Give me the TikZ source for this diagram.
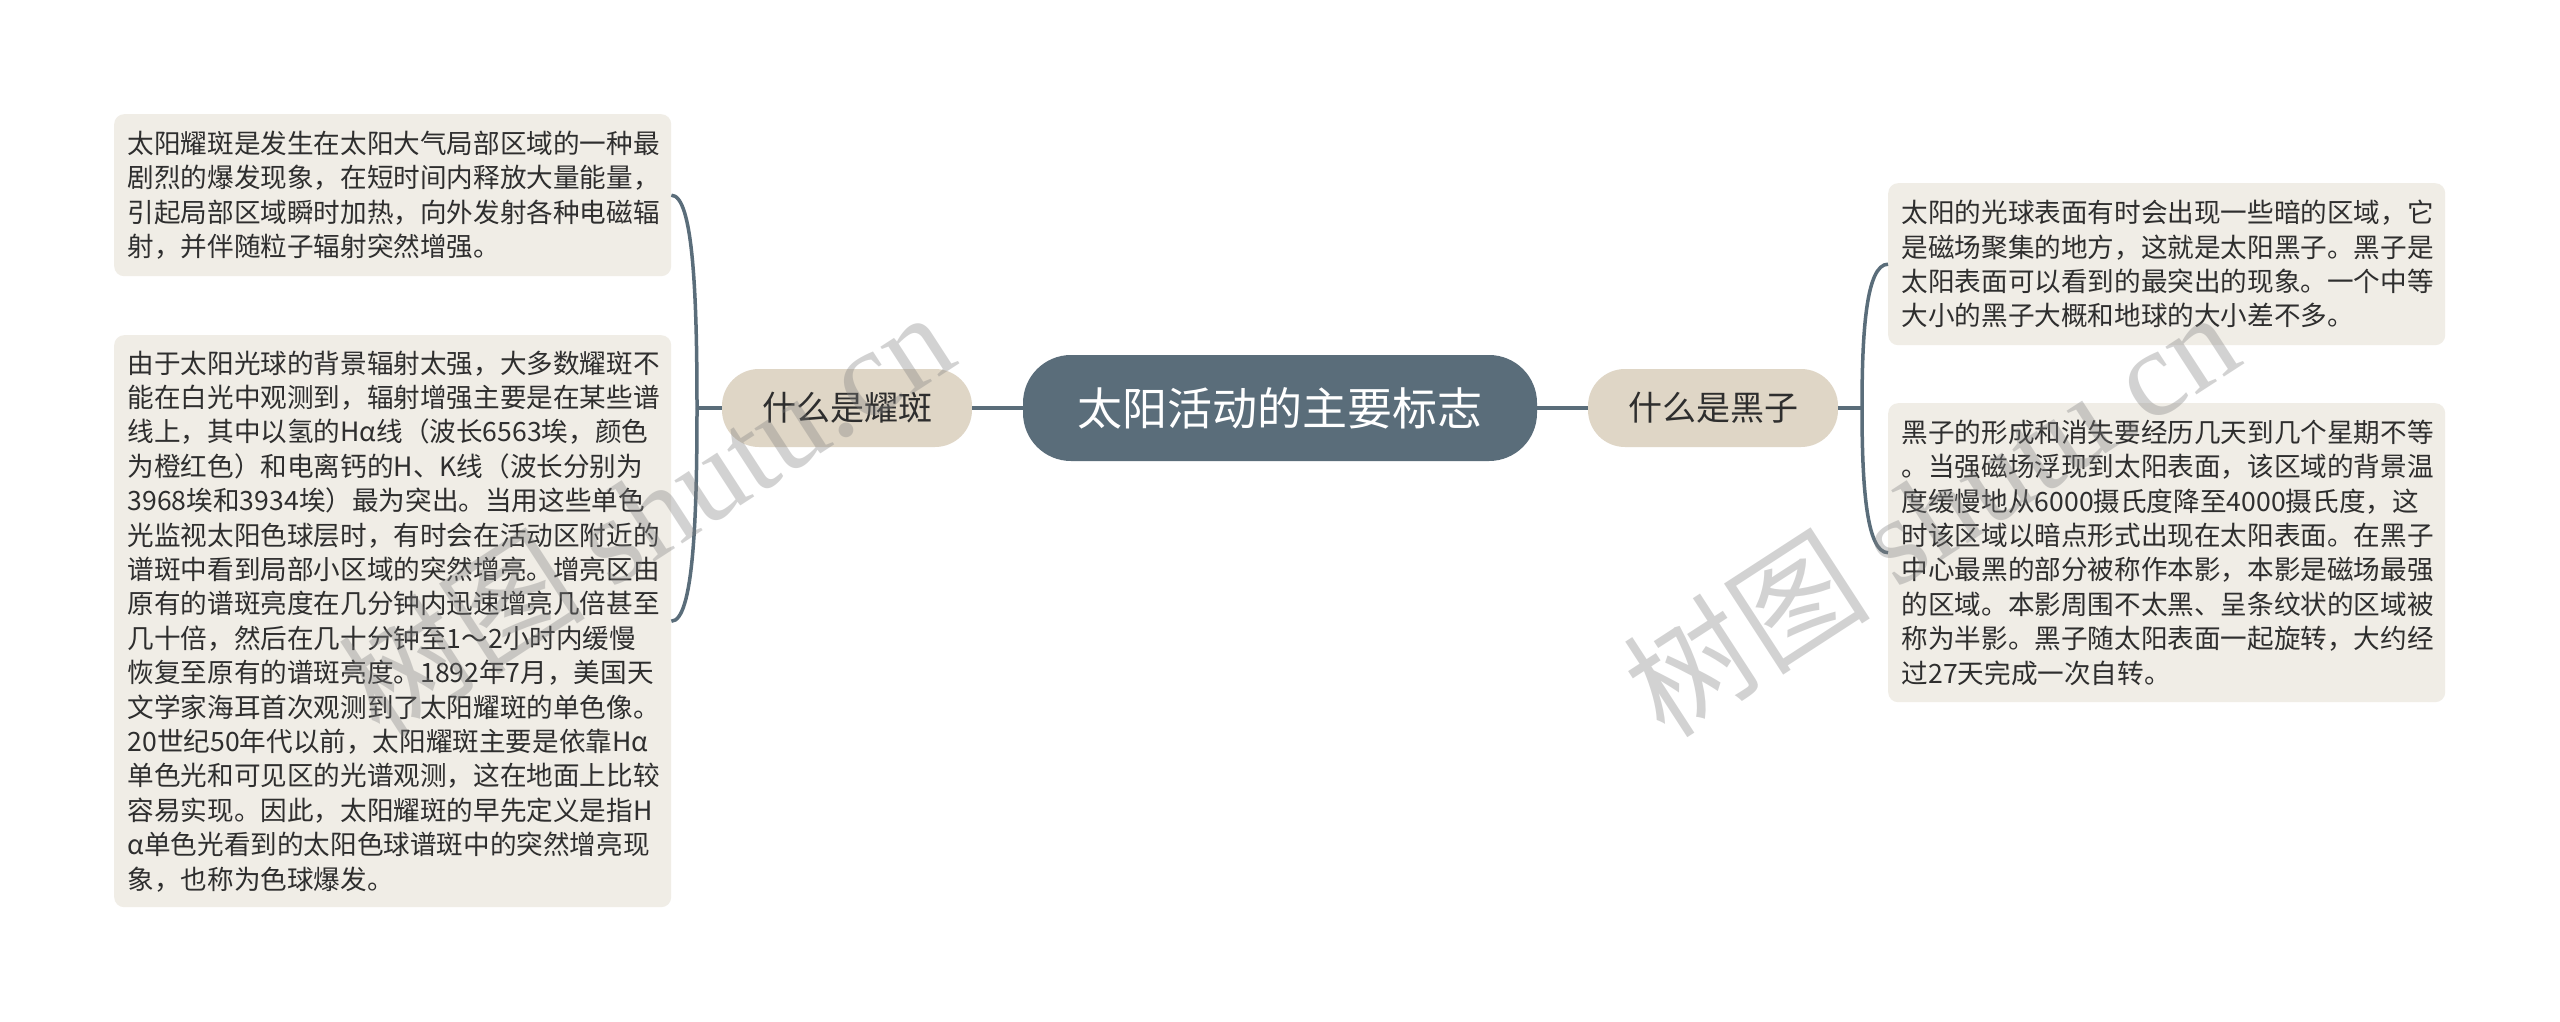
\documentclass[tikz,border=0pt]{standalone}
\usepackage{fontspec}
\setmainfont{Noto Sans CJK SC}
\newfontfamily\wmserif{Liberation Serif}
\usetikzlibrary{calc}
\definecolor{mainc}{HTML}{5A6D7A}
\definecolor{subc}{HTML}{DFD6C6}
\definecolor{leafc}{HTML}{F0EDE6}
\definecolor{txtc}{HTML}{2E2E2E}
\tikzset{
  rootbox/.style={fill=mainc, draw=none, rounded corners=48pt, minimum width=514pt, minimum height=106pt, inner sep=0pt, text=white, font=\fontsize{45pt}{54pt}\selectfont},
  subbox/.style={fill=subc, draw=none, rounded corners=37pt, minimum width=250pt, minimum height=78pt, inner sep=0pt, text=txtc, font=\fontsize{34pt}{40pt}\selectfont},
  leafbox/.style={fill=leafc, draw=none, rounded corners=10pt, text width=530pt, inner xsep=13.5pt, inner ysep=0pt, align=left, anchor=north west, text=txtc, font=\fontsize{26.6pt}{34.4pt}\selectfont},
  mainconn/.style={draw=mainc, line width=4.5pt},
  brconn/.style={draw=mainc, line width=3.5pt},
  wmark/.style={text=black!50, opacity=0.35, inner sep=0pt, rotate=33, font=\fontsize{124pt}{130pt}\selectfont}
}
\begin{document}
\begin{tikzpicture}[x=1pt,y=-1pt]
\useasboundingbox (0,0) rectangle (2560,1022);
\fill[white] (0,0) rectangle (2560,1022);

\node[rootbox] (root) at (1280,408) {太阳活动的主要标志};
\node[subbox] (sl) at (847,408) {什么是耀斑};
\node[subbox] (sr) at (1713,408) {什么是黑子};

\node[leafbox, minimum height=162pt] (l1) at (114,114) {太阳耀斑是发生在太阳大气局部区域的一种最\\
剧烈的爆发现象，在短时间内释放大量能量，\\
引起局部区域瞬时加热，向外发射各种电磁辐\\
射，并伴随粒子辐射突然增强。};

\node[leafbox, minimum height=572pt] (l2) at (114,335) {由于太阳光球的背景辐射太强，大多数耀斑不\\
能在白光中观测到，辐射增强主要是在某些谱\\
线上，其中以氢的Hα线（波长6563埃，颜色\\
为橙红色）和电离钙的H、K线（波长分别为\\
3968埃和3934埃）最为突出。当用这些单色\\
光监视太阳色球层时，有时会在活动区附近的\\
谱斑中看到局部小区域的突然增亮。增亮区由\\
原有的谱斑亮度在几分钟内迅速增亮几倍甚至\\
几十倍，然后在几十分钟至1～2小时内缓慢\\
恢复至原有的谱斑亮度。1892年7月，美国天\\
文学家海耳首次观测到了太阳耀斑的单色像。\\
20世纪50年代以前，太阳耀斑主要是依靠Hα\\
单色光和可见区的光谱观测，这在地面上比较\\
容易实现。因此，太阳耀斑的早先定义是指H\\
α单色光看到的太阳色球谱斑中的突然增亮现\\
象，也称为色球爆发。};

\node[leafbox, minimum height=162pt] (r1) at (1888,183) {太阳的光球表面有时会出现一些暗的区域，它\\
是磁场聚集的地方，这就是太阳黑子。黑子是\\
太阳表面可以看到的最突出的现象。一个中等\\
大小的黑子大概和地球的大小差不多。};

\node[leafbox, minimum height=299pt] (r2) at (1888,403) {黑子的形成和消失要经历几天到几个星期不等\\
。当强磁场浮现到太阳表面，该区域的背景温\\
度缓慢地从6000摄氏度降至4000摄氏度，这\\
时该区域以暗点形式出现在太阳表面。在黑子\\
中心最黑的部分被称作本影，本影是磁场最强\\
的区域。本影周围不太黑、呈条纹状的区域被\\
称为半影。黑子随太阳表面一起旋转，大约经\\
过27天完成一次自转。};

\coordinate (jl) at (697,408);
\coordinate (jr) at (1862,408);

\draw[mainconn] (root.west) -- (sl.east);
\draw[mainconn] (root.east) -- (sr.west);
\draw[brconn] (sl.west) -- (jl);
\draw[brconn] (sr.east) -- (jr);
\draw[brconn] (jl) .. controls +(0,-110) and +(22,0) .. (l1.east);
\draw[brconn] (jl) .. controls +(0,110) and +(22,0) .. (l2.east);
\draw[brconn] (jr) .. controls +(0,-75) and +(-22,0) .. (r1.west);
\draw[brconn] (jr) .. controls +(0,75) and +(-22,0) .. (r2.west);

\node[wmark] (wm1) at (645,512) {树图 {\wmserif shutu.cn}};
\node[wmark] (wm2) at (1930,512) {树图 {\wmserif shutu.cn}};
\end{tikzpicture}
\end{document}
